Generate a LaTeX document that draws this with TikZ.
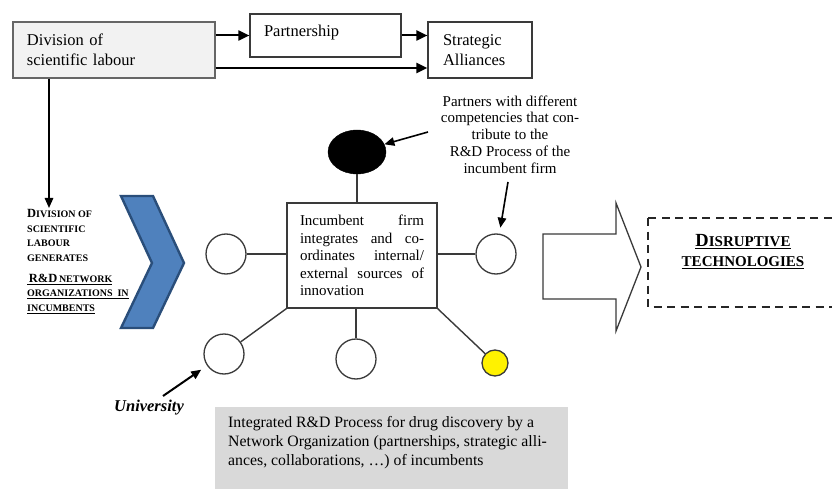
\documentclass[tikz,border=0pt]{standalone}
\usepackage{fontspec}
\setmainfont{Liberation Serif}
\usetikzlibrary{arrows.meta,shapes.geometric}
\definecolor{chevfill}{HTML}{4F81BD}
\definecolor{chevline}{HTML}{2A4E7A}
\definecolor{boxgray}{HTML}{F2F2F2}
\definecolor{notegray}{HTML}{D9D9D9}
\definecolor{edge}{HTML}{3A3A3A}
\newcommand{\bigsc}[1]{{\fontsize{12.5}{14.5}\selectfont #1}}
\newcommand{\smsc}[1]{{\fontsize{10}{14.5}\selectfont #1}}
\newcommand{\Bsc}[1]{{\fontsize{18.5}{20}\selectfont #1}}
\newcommand{\Ssc}[1]{{\fontsize{15}{20}\selectfont #1}}
\newcommand{\jline}[1]{\makebox[124pt][l]{#1}}
\begin{document}
\begin{tikzpicture}[x=1pt,y=-1pt,
  topbox/.style={draw=edge,line width=1.2pt,rectangle,inner xsep=14pt,inner ysep=0pt,align=left,font=\fontsize{16.5}{20}\selectfont},
  arr/.style={line width=2pt,-{Triangle[length=11pt,width=10pt]}},
  thinarr/.style={line width=1.6pt,-{Triangle[length=10pt,width=8.5pt]}},
  link/.style={line width=1.4pt,draw=edge},
  partnerc/.style={circle,draw=edge,line width=1.3pt,minimum size=40pt,inner sep=0pt,fill=white},
]
\useasboundingbox (0,0) rectangle (832,489);
\clip (0,0) rectangle (832,489);

% top boxes
\node[topbox,fill=boxgray,draw=black!60,minimum width=202pt,minimum height=56pt,text width=174pt] (division) at (114,50) {Division of\\scientific labour};
\node[topbox,minimum width=151pt,minimum height=43pt,text width=123pt,text depth=9.5pt] (partner) at (325.5,35.5) {Partnership};
\node[topbox,inner xsep=15pt,minimum width=104pt,minimum height=56pt,text width=74pt] (alliance) at (480,50) {Strategic\\Alliances};

\draw[arr] (division.east |- partner.west) -- (partner.west);
\draw[arr] (partner.east) -- (partner.east -| alliance.west);
\draw[arr,line width=2.6pt] ([yshift=-18pt]division.east) -- ([yshift=-18pt]division.east -| alliance.west);

\coordinate (dtip) at (49,208);
\draw[thinarr,line width=1.5pt] (division.south -| dtip) -- (dtip);

% left label
\node[anchor=north west,align=left,font=\bfseries\fontsize{10}{14.5}\selectfont,inner sep=0pt] (genlabel) at (27,209.5)
 {\bigsc{D}\smsc{IVISION OF}\\ \smsc{SCIENTIFIC}\\ \smsc{LABOUR}\\ \smsc{GENERATES}\\[6.5pt]
  \underline{\,\bigsc{R\&D}\,\smsc{NETWORK}}\\ \underline{\smsc{ORGANIZATIONS\ \ IN}}\\ \underline{\smsc{INCUMBENTS}}};

% chevron
\draw[fill=chevfill,draw=chevline,line width=2.4pt,line join=miter]
  (121,196) -- (153,196) -- (184,263) -- (153,328) -- (121,328) -- (152,263) -- cycle;

% core
\node[draw=edge,line width=1.3pt,minimum width=150pt,minimum height=105pt,inner xsep=13pt,text width=124pt,align=left,font=\fontsize{15}{17.5}\selectfont] (core) at (362,255.5)
 {\jline{Incumbent\hfill firm}\\ \jline{integrates\hfill and\hfill co-}\\ \jline{ordinates\hfill internal/}\\ \jline{external\hfill sources\hfill of}\\ innovation};

% partners
\node[partnerc] (c1) at (226,254) {};
\node[partnerc] (c2) at (496,254) {};
\node[partnerc] (c3) at (224,354) {};
\node[partnerc] (c4) at (356,359) {};
\node[circle,draw=edge,line width=1.3pt,fill=yellow,minimum size=26pt,inner sep=0pt] (c5) at (495,363) {};
\node[ellipse,fill=black,draw=black,minimum width=58pt,minimum height=44pt,inner sep=0pt] (hub) at (357,152) {};

\draw[link] (hub.south) -- (hub.south |- core.north);
\draw[link] (c1.east) -- (c1.east -| core.west);
\draw[link] (core.east |- c2.west) -- (c2.west);
\draw[link] (core.south west) -- (c3);
\draw[link] (c4.north |- core.south) -- (c4.north);
\draw[link] (core.south east) -- (c5);

% partners text
\node[align=center,font=\fontsize{15}{16.75}\selectfont] (ptext) at (510,134.5)
 {Partners with different\\competencies that con-\\tribute to the\\R\&D Process of the\\incumbent firm};
\coordinate (pa) at (428,132);
\draw[thinarr] (pa) -- (hub);
\coordinate (pb) at (508,182);
\draw[thinarr,shorten >=6pt] (pb) -- (c2);

% university
\node[font=\bfseries\itshape\fontsize{16.5}{20}\selectfont] (univ) at (149,408) {University};
\coordinate (ua) at (163,396);
\draw[thinarr,line width=2pt,shorten >=7pt] (ua) -- (c3);

% grey note
\node[fill=notegray,minimum width=353pt,minimum height=95pt,anchor=north west,inner sep=0pt] (note) at (215,407) {};
\node[anchor=north west,align=left,font=\fontsize{15.8}{19}\selectfont,inner sep=0pt] (notetext) at (228,416.5)
 {Integrated R\&D Process for drug discovery by a\\Network Organization (partnerships, strategic alli-\\ances, collaborations, \dots) of incumbents};

% big outline arrow
\draw[edge,line width=1.3pt,fill=white,line join=miter]
  (543,234) -- (616,234) -- (616,203) -- (641,267) -- (616,331) -- (616,299) -- (543,299) -- cycle;

% disruptive
\draw[line width=2.2pt,dash pattern=on 8pt off 5.5pt,black!85] (648,218) rectangle (860,307);
\node[font=\bfseries\fontsize{15}{20}\selectfont,align=center] (disrupt) at (743,252)
 {\underline{\Bsc{D}\Ssc{ISRUPTIVE}}\\ \underline{\Ssc{TECHNOLOGIES}}};
\end{tikzpicture}
\end{document}
